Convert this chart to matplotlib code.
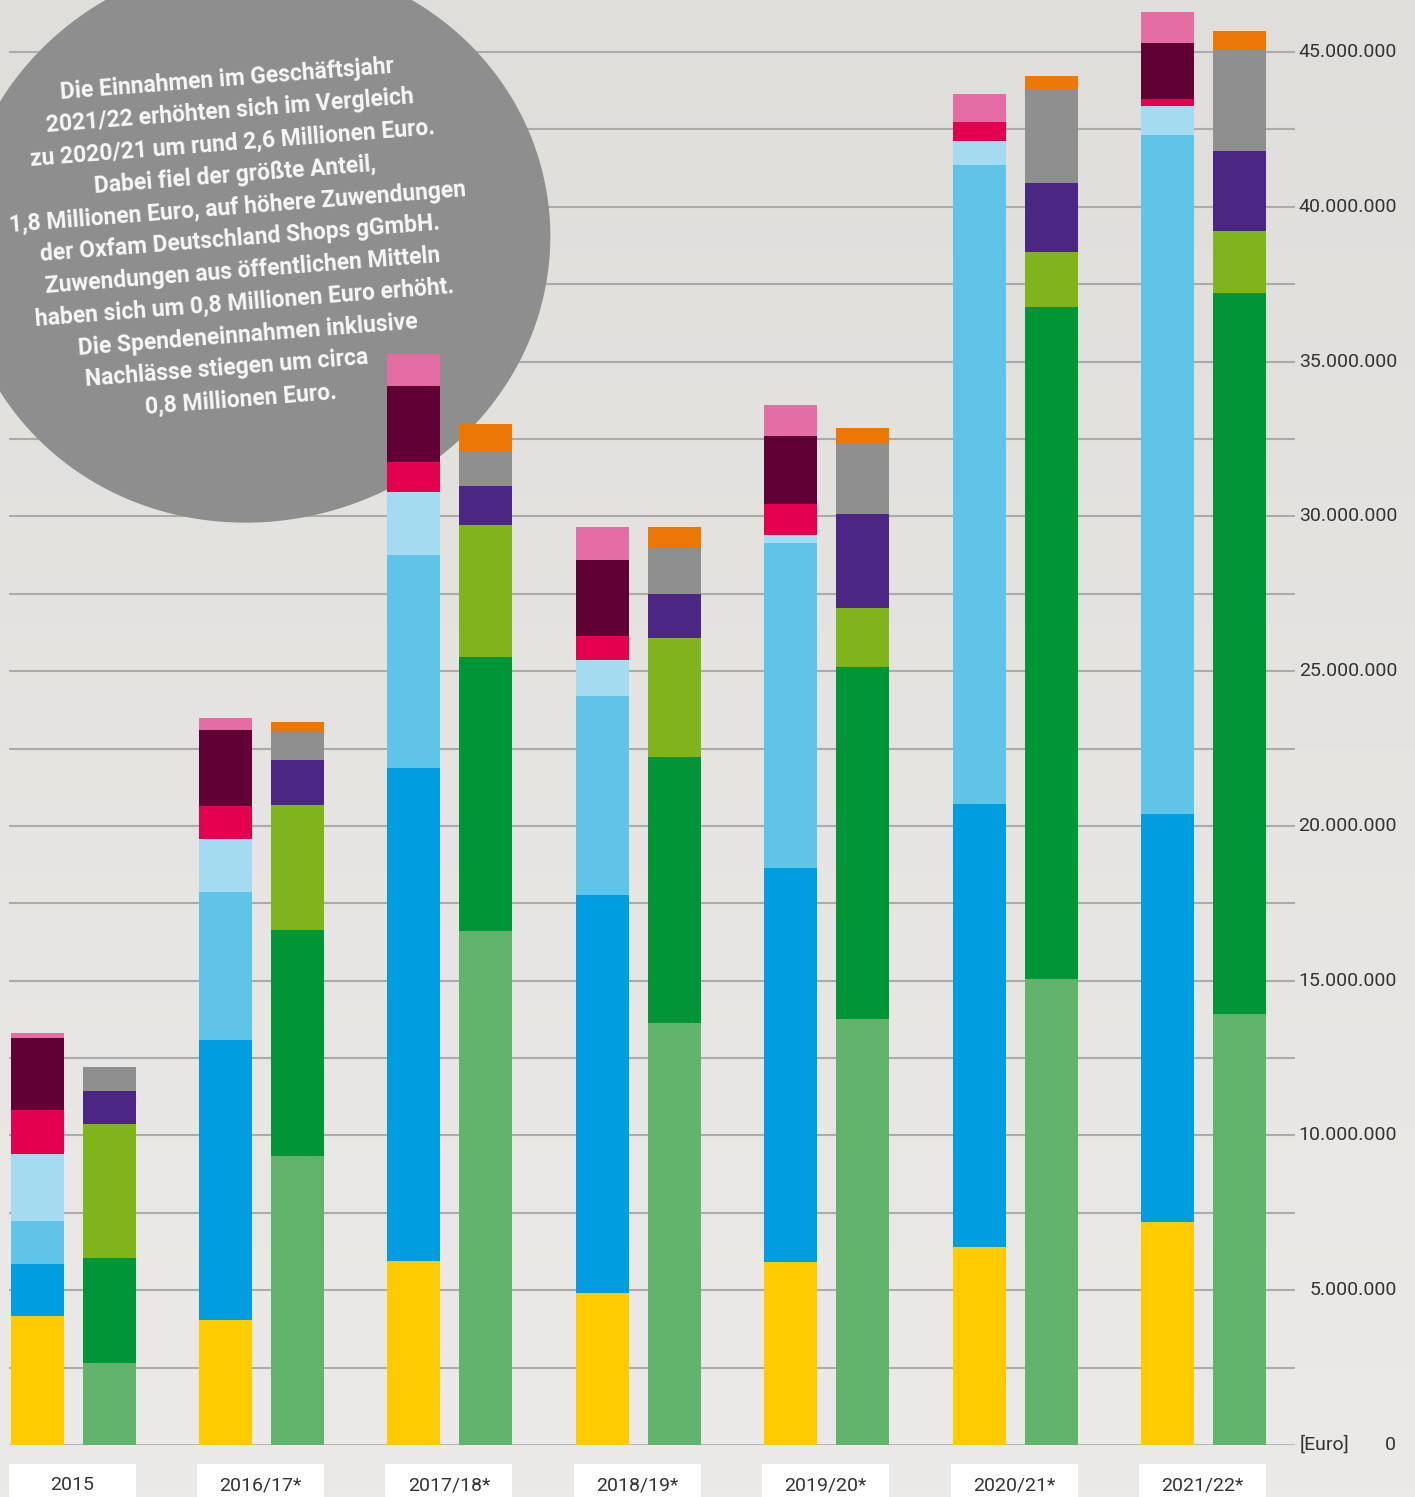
import numpy as np
import matplotlib.pyplot as plt
import matplotlib.transforms as mtransforms
from matplotlib.patches import Polygon, Rectangle

plt.rcParams['font.family'] = ['Roboto', 'DejaVu Sans']

years = ["2015", "2016/17*", "2017/18*", "2018/19*", "2019/20*", "2020/21*", "2021/22*"]

# Einnahmen (linke Saeule), Mio. Euro, von unten nach oben
ein_gelb      = [4.17, 4.04, 5.94, 4.91, 5.91, 6.40, 7.20]
ein_blau      = [1.68, 9.04, 15.93, 12.86, 12.73, 14.31, 13.18]
ein_hellblau  = [1.39, 4.78, 6.88, 6.43, 10.50, 20.64, 21.94]
ein_blassblau = [2.17, 1.72, 2.04, 1.16, 0.26, 0.77, 0.94]
ein_rot       = [1.42, 1.06, 0.97, 0.77, 1.00, 0.62, 0.22]
ein_bordeaux  = [2.33, 2.46, 2.45, 2.46, 2.19, 0.00, 1.81]
ein_rosa      = [0.16, 0.39, 1.03, 1.07, 1.01, 0.90, 1.00]

# Ausgaben (rechte Saeule), Mio. Euro, von unten nach oben
aus_hellgruen = [2.65, 9.34, 16.60, 13.63, 13.76, 15.05, 13.92]
aus_gruen     = [3.39, 7.30, 8.86, 8.60, 11.37, 21.71, 23.29]
aus_gelbgruen = [4.33, 4.03, 4.26, 3.84, 1.91, 1.78, 2.01]
aus_lila      = [1.07, 1.46, 1.26, 1.42, 3.03, 2.23, 2.58]
aus_grau      = [0.77, 0.90, 1.13, 1.49, 2.30, 3.03, 3.26]
aus_orange    = [0.00, 0.33, 0.87, 0.68, 0.48, 0.42, 0.62]

ein_series = [ein_gelb, ein_blau, ein_hellblau, ein_blassblau, ein_rot, ein_bordeaux, ein_rosa]
ein_colors = ['#fecb00', '#009ee0', '#5fc4e8', '#a5dbf0', '#e3004f', '#600035', '#e46ea3']
aus_series = [aus_hellgruen, aus_gruen, aus_gelbgruen, aus_lila, aus_grau, aus_orange]
aus_colors = ['#62b46c', '#009537', '#7fb41d', '#4b2683', '#8f8f8f', '#ec7702']

y_ticks = np.arange(5, 46, 5)
y_grid = np.arange(2.5, 46, 2.5)

# trailing spaces shift the last lines left, like in the original layout
bubble_text = ("Die Einnahmen im Geschäftsjahr\n"
               "2021/22 erhöhten sich im Vergleich\n"
               "zu 2020/21 um rund 2,6 Millionen Euro.\n"
               "Dabei fiel der größte Anteil,\n"
               "1,8 Millionen Euro, auf höhere Zuwendungen\n"
               "der Oxfam Deutschland Shops gGmbH.\n"
               "Zuwendungen aus öffentlichen Mitteln\n"
               "haben sich um 0,8 Millionen Euro erhöht.\n"
               "Die Spendeneinnahmen inklusive\n"
               "Nachlässe stiegen um circa        \n"
               "0,8 Millionen Euro.    ")

W, H = 1415, 1497
fig = plt.figure(figsize=(W / 100, H / 100), dpi=100)

# background gradient
bg = fig.add_axes([0, 0, 1, 1])
grad = np.linspace(0, 1, 256).reshape(-1, 1)
top = np.array([0xdf, 0xde, 0xdb]) / 255
bot = np.array([0xeb, 0xea, 0xe8]) / 255
img = top + (bot - top) * grad[:, :, None]
bg.imshow(img, aspect='auto', extent=[0, 1, 0, 1])
bg.axis('off')

ax = fig.add_axes([0, 52 / H, 1295 / W, 1445 / H])
ax.patch.set_alpha(0)
ax.set_xlim(-0.1964, 6.677)
ax.set_ylim(0, 45 * 1445 / 1393)
ax.axis('off')

# gridlines
ax.hlines(y_grid, -0.1964 + 9 / 188.4, 6.677, color='#ababab', lw=1.5, zorder=1)
ax.hlines([0], -0.1964 + 9 / 188.4, 6.677, color='#b2b2b2', lw=2, zorder=1)

# speech bubble (pixel coords from top-left)
pix = mtransforms.Affine2D().scale(1 / 100, -1 / 100).translate(0, H / 100) + fig.dpi_scale_trans
cx, cy = 265, 255
bx = np.array([95, 43, 0, 0, 255, 370, 470, 518, 527, 551, 550, 510, 405])
by = np.array([0, 50, 107, 393, 522, 500, 423, 368, 340, 280, 240, 93, 0])
th = np.arctan2(by - cy, bx - cx)
rr = np.hypot(bx - cx, by - cy)
A = np.column_stack([np.ones_like(th), np.cos(th), np.sin(th), np.cos(2 * th), np.sin(2 * th)])
coef = np.linalg.lstsq(A, rr, rcond=None)[0]
t = np.linspace(-np.pi, np.pi, 400)
rt = np.column_stack([np.ones_like(t), np.cos(t), np.sin(t), np.cos(2 * t), np.sin(2 * t)]) @ coef
ax.add_patch(Polygon(np.column_stack([cx + rt * np.cos(t), cy + rt * np.sin(t)]),
                     closed=True, facecolor='#8e8e8e', edgecolor='none',
                     transform=pix, zorder=2, clip_on=False))
ax.text(240, 239, bubble_text, transform=pix, rotation=4.5, ha='center', va='center',
        multialignment='center', fontsize=16.5, fontweight='bold', color='#f7f7f7',
        linespacing=1.5, zorder=2.5)

# bars
x = np.arange(len(years))
bw = 53 / 188.4
off = 72 / 188.4
bottom = np.zeros(len(years))
for vals, col in zip(ein_series, ein_colors):
    ax.bar(x, vals, bw, bottom=bottom, color=col, zorder=3, linewidth=0)
    bottom += np.array(vals)
bottom = np.zeros(len(years))
for vals, col in zip(aus_series, aus_colors):
    ax.bar(x + off, vals, bw, bottom=bottom, color=col, zorder=3, linewidth=0)
    bottom += np.array(vals)

# year label boxes
xb = mtransforms.blended_transform_factory(ax.transData, ax.transAxes)
for i, yr in enumerate(years):
    left = i - bw / 2 - 0.01
    right = i + off + bw / 2
    ax.add_patch(Rectangle((left, -0.04), right - left, 0.04 - 19 / 1445,
                           facecolor='white', edgecolor='none',
                           transform=xb, clip_on=False, zorder=3))
    ax.text((left + right) / 2, -40 / 1445, yr, transform=xb, ha='center', va='center',
            fontsize=14, color='#333333')

# y labels on the right
yb = mtransforms.blended_transform_factory(ax.transAxes, ax.transData)
for v in y_ticks:
    lab = f"{int(v * 1e6):,}".replace(",", ".")
    ax.text(1397 / 1295, v, lab, transform=yb, ha='right', va='center',
            fontsize=14, color='#333333')
ax.text(1396 / 1295, 0, "0", transform=yb, ha='right', va='center',
        fontsize=14, color='#333333')
ax.text(1300 / 1295, 0, "[Euro]", transform=yb, ha='left', va='center',
        fontsize=14, color='#333333')

fig.savefig('out.png', dpi=100)
